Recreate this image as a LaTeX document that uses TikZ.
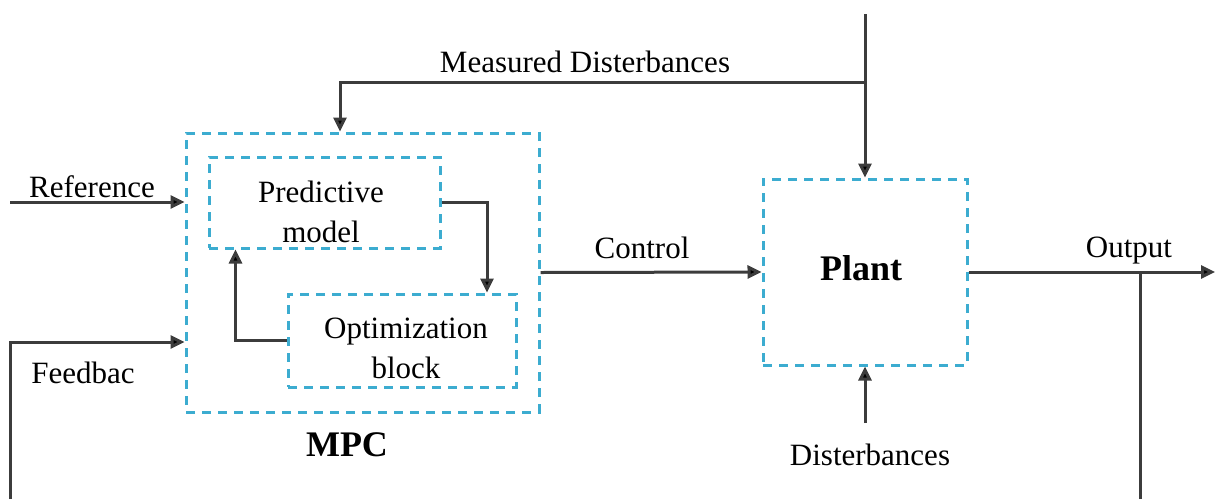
\documentclass[tikz,border=0pt]{standalone}
\usepackage{fontspec}
\setmainfont{Liberation Serif}
\usetikzlibrary{arrows.meta,calc}
\definecolor{boxblue}{RGB}{60,172,208}
\definecolor{wire}{RGB}{60,60,60}
\tikzset{
  dbox/.style={draw=boxblue, line width=3pt, dash pattern=on 9pt off 7pt, rectangle, inner sep=0pt, align=center},
  arr/.style={draw=wire, line width=3pt, -{Triangle[length=14pt,width=13pt,fill=black]}},
  wireline/.style={draw=wire, line width=3pt},
  lbl/.style={inner sep=0pt, align=center},
}
\begin{document}
\begin{tikzpicture}[x=1pt,y=-1pt,font=\fontsize{31}{40}\selectfont]
\useasboundingbox (0,0) rectangle (1216,499);
% boxes
\node[dbox, minimum width=353pt, minimum height=279pt] (mpc) at (362.5,272.5) {};
\node[dbox, minimum width=231pt, minimum height=91pt] (pred) at (324.5,202.5) {};
\node[dbox, minimum width=228pt, minimum height=93pt] (opt) at (402,340.5) {};
\node[dbox, minimum width=204pt, minimum height=186pt] (plant) at (865,272) {};
% texts
\node[lbl] (predT) at (321,212) {Predictive\\model};
\node[lbl] (optT) at (406,348) {Optimization\\block};
\node[lbl, font=\fontsize{36}{40}\selectfont\bfseries] (plantT) at (861,268) {Plant};
\node[lbl, font=\fontsize{36}{40}\selectfont\bfseries] (mpcT) at (347,445) {MPC};
\node[lbl] (mdT) at (585,62) {Measured Disterbances};
\node[lbl] (refT) at (92,187) {Reference};
\node[lbl] (fbT) at (83,373) {Feedbac};
\node[lbl] (ctlT) at (642,248) {Control};
\node[lbl] (outT) at (1129,251) {Output};
\node[lbl] (disT) at (870,455) {Disterbances};
% coordinates
\coordinate (mdTop) at (865,14);
\coordinate (mdJ) at (865,82);
\coordinate (mdK) at (340,82);
\coordinate (refS) at (10,202);
\coordinate (fbS) at (10,499);
\coordinate (fbC) at (10,342);
\coordinate (outE) at (1215,272);
\coordinate (outB) at (1140,499);
\coordinate (dS) at (865,423);
% connectors
\draw[arr] (mdTop) -- (plant.north);
\draw[arr] (mdJ) -- (mdK) -- (mdK |- mpc.north);
\draw[arr] (refS) -- (refS -| mpc.west);
\draw[arr] (fbS) -- (fbC) -- (fbC -| mpc.west);
\draw[arr] (pred.east) -| ($(opt.north)+(85,0)$);
\draw[arr] (opt.west) -| ($(pred.south)+(-89,0)$);
\draw[arr] (mpc.east) -- (plant.west);
\draw[arr] (plant.east) -- (outE);
\draw[wireline] (outB) -- (outB |- plant.east);
\draw[arr] (dS) -- (plant.south);
\end{tikzpicture}
\end{document}
